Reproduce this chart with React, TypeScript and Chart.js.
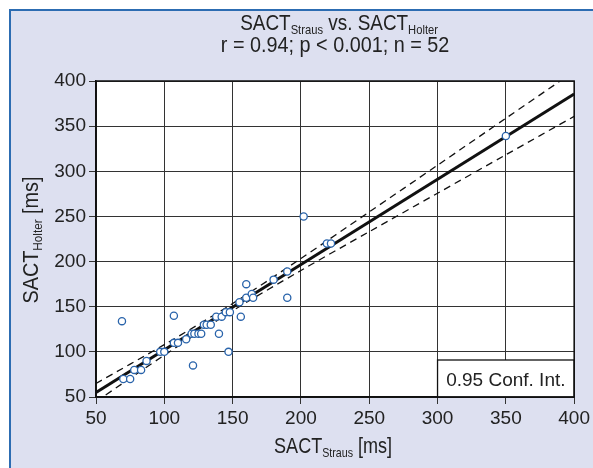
import { useEffect, useRef } from "react";
import { Chart, registerables } from "chart.js";
Chart.register(...registerables);

// Scatter values: SACT Straus (x) vs SACT Holter (y), ms
const strausValues = [69, 70, 75, 78, 83, 87, 97, 100, 107, 107, 110, 116, 120, 122, 125, 127, 121, 129, 131, 134, 140, 138, 142, 145, 148, 147, 156, 155, 160, 160, 164, 165, 180, 190, 190, 202, 219, 222, 350];
const holterValues = [134, 70, 70, 80, 80, 90, 100, 100, 140, 110, 110, 114, 120, 120, 120, 120, 85, 130, 130, 130, 120, 139, 139, 144, 144, 100, 139, 155, 175, 160, 164, 160, 180, 189, 160, 250, 220, 220, 339];

// Regression line
const fitX = [50, 400];
const fitY = [55, 385.7];

// 0.95 confidence band
const bandX = [50, 100, 150, 200, 250, 300, 350, 400];
const upperY = [65, 108, 153.5, 203.4, 255, 306.7, 358.7, 410.6];
const lowerY = [45, 96.3, 145.5, 190.1, 233.1, 275.7, 318.3, 360.8];

const axisTicks = [50, 100, 150, 200, 250, 300, 350, 400];

const titleMain = [
  { t: "SACT" },
  { t: "Straus", sub: true },
  { t: " vs. SACT" },
  { t: "Holter", sub: true },
];
const titleStats = "r = 0.94; p < 0.001; n = 52";
const xTitle = [{ t: "SACT" }, { t: "Straus", sub: true }, { t: " [ms]" }];
const yTitle = [{ t: "SACT" }, { t: "Holter", sub: true }, { t: " [ms]" }];
const legendText = "0.95 Conf. Int.";

const FONT = "'Liberation Sans', Arial, sans-serif";
const TEXT = "#222";

type Part = { t: string; sub?: boolean };

function drawParts(
  ctx: CanvasRenderingContext2D,
  parts: Part[],
  cx: number,
  baseline: number,
  size: number,
  sx: number
) {
  const subSize = Math.round(size * 0.57);
  let total = 0;
  const widths = parts.map((p) => {
    ctx.font = `${p.sub ? subSize : size}px ${FONT}`;
    const w = ctx.measureText(p.t).width;
    total += w;
    return w;
  });
  ctx.save();
  ctx.translate(cx, baseline);
  ctx.scale(sx, 1);
  let x = -total / 2;
  ctx.textAlign = "left";
  ctx.textBaseline = "alphabetic";
  ctx.fillStyle = TEXT;
  parts.forEach((p, i) => {
    ctx.font = `${p.sub ? subSize : size}px ${FONT}`;
    ctx.fillText(p.t, x, p.sub ? size * 0.2 : 0);
    x += widths[i];
  });
  ctx.restore();
}

const framePlugin = {
  id: "frame",
  beforeDraw(chart: any) {
    const { ctx, chartArea: a, width, height } = chart;
    ctx.save();
    ctx.fillStyle = "#ffffff";
    ctx.fillRect(0, 0, width, height);
    ctx.fillStyle = "#dde0f0";
    ctx.fillRect(10, 10, width - 10, height - 10);
    ctx.strokeStyle = "#2c6cb2";
    ctx.lineWidth = 2;
    ctx.beginPath();
    ctx.moveTo(10, height);
    ctx.lineTo(10, 10);
    ctx.lineTo(width, 10);
    ctx.stroke();
    ctx.fillStyle = "#ffffff";
    ctx.fillRect(a.left, a.top, a.right - a.left, a.bottom - a.top);
    ctx.restore();
  },
  afterDraw(chart: any) {
    const { ctx, chartArea: a } = chart;
    const xs = chart.scales.x;
    ctx.save();
    // legend box
    const bx = xs.getPixelForValue(300);
    const by = a.bottom - 37;
    ctx.fillStyle = "#fff";
    ctx.fillRect(bx, by, a.right - bx, a.bottom - by);
    ctx.strokeStyle = "#111";
    ctx.lineWidth = 1.3;
    ctx.strokeRect(bx, by, a.right - bx, a.bottom - by);
    ctx.font = `19px ${FONT}`;
    ctx.fillStyle = TEXT;
    ctx.textAlign = "center";
    ctx.textBaseline = "alphabetic";
    ctx.fillText(legendText, (bx + a.right) / 2, by + 26);
    // plot border
    ctx.strokeStyle = "#111";
    ctx.lineWidth = 1.5;
    ctx.strokeRect(a.left, a.top, a.right - a.left, a.bottom - a.top);
    // titles
    const cx = (a.left + a.right) / 2;
    drawParts(ctx, titleMain, cx + 4, 30, 22, 0.86);
    drawParts(ctx, [{ t: titleStats }], cx, 52, 22, 0.9);
    drawParts(ctx, xTitle, cx - 2, 453, 22, 0.82);
    ctx.translate(37.5, 240);
    ctx.rotate(-Math.PI / 2);
    drawParts(ctx, yTitle, 0, 0, 22, 0.9);
    ctx.restore();
  },
};

export default function App() {
  const ref = useRef<HTMLCanvasElement>(null);
  useEffect(() => {
    const pts = strausValues.map((x, i) => ({ x, y: holterValues[i] }));
    const fit = fitX.map((x, i) => ({ x, y: fitY[i] }));
    const up = bandX.map((x, i) => ({ x, y: upperY[i] }));
    const lo = bandX.map((x, i) => ({ x, y: lowerY[i] }));
    const lineBase = { type: "line" as const, showLine: true, pointRadius: 0, fill: false, borderColor: "#111" };
    const tickFont = { family: FONT, size: 19 };
    const gridCfg = { color: "#333", lineWidth: 1, tickLength: 7, tickColor: "#333", drawTicks: true };
    const chart = new Chart(ref.current!, {
      type: "scatter",
      data: {
        datasets: [
          {
            type: "scatter",
            data: pts,
            pointRadius: 3.6,
            pointBorderWidth: 1.3,
            borderColor: "#2a64ab",
            backgroundColor: "#ffffff",
            pointBackgroundColor: "#ffffff",
            pointBorderColor: "#2a64ab",
          } as any,
          { ...lineBase, data: fit, borderWidth: 3 } as any,
          { ...lineBase, data: up, borderWidth: 1.3, borderDash: [7, 5], tension: 0.3 } as any,
          { ...lineBase, data: lo, borderWidth: 1.3, borderDash: [7, 5], tension: 0.3 } as any,
        ],
      },
      options: {
        animation: false,
        responsive: false,
        devicePixelRatio: 1,
        layout: { padding: { top: 81, right: 17, left: 0, bottom: 0 } },
        plugins: { legend: { display: false }, tooltip: { enabled: false }, title: { display: false } },
        scales: {
          x: {
            type: "linear",
            min: 50,
            max: 400,
            afterBuildTicks: (s: any) => { s.ticks = axisTicks.map((v) => ({ value: v })); },
            afterFit: (s: any) => { s.height = 71; },
            ticks: { font: tickFont, color: TEXT, padding: 3 },
            grid: gridCfg,
            border: { color: "#111", width: 1.5 },
          },
          y: {
            type: "linear",
            min: 50,
            max: 400,
            afterBuildTicks: (s: any) => { s.ticks = axisTicks.map((v) => ({ value: v })); },
            afterFit: (s: any) => { s.width = 96; },
            ticks: { font: tickFont, color: TEXT, padding: 3 },
            grid: gridCfg,
            border: { color: "#111", width: 1.5 },
          },
        },
      },
      plugins: [framePlugin],
    } as any);
    return () => chart.destroy();
  }, []);
  return (
    <canvas
      ref={ref}
      width={593}
      height={468}
      style={{ position: "absolute", left: 0, top: 0, width: 593, height: 468 }}
    />
  );
}
